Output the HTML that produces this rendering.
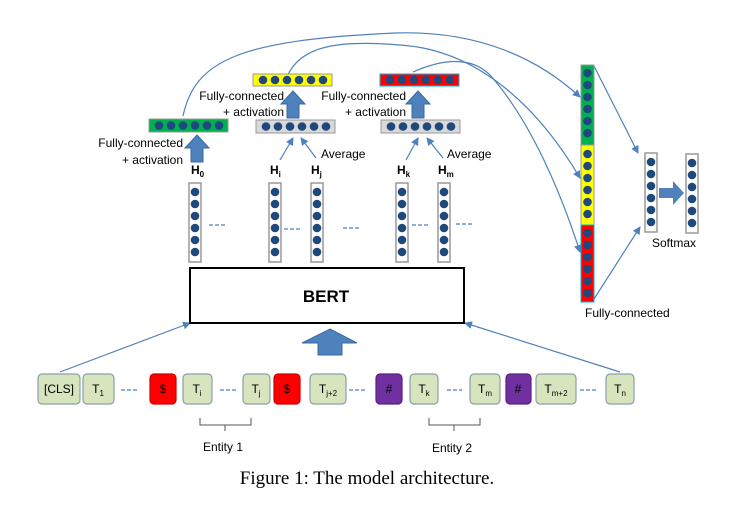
<!DOCTYPE html>
<html><head><style>body{margin:0;background:#fff}</style></head><body>
<svg width="746" height="511" xmlns="http://www.w3.org/2000/svg" font-family="Liberation Sans, sans-serif">
<defs>
<marker id="ah" markerWidth="8" markerHeight="8" refX="7" refY="4" orient="auto" markerUnits="userSpaceOnUse"><path d="M0,0 L8,4 L0,8 Z" fill="#4f81bd"/></marker>
<g id="vcol"><rect x="0" y="0" width="12" height="79" fill="#fff" stroke="#999" stroke-width="1.5"/>
<circle cx="6" cy="9" r="4.3" fill="#1f497d"/><circle cx="6" cy="21" r="4.3" fill="#1f497d"/><circle cx="6" cy="33" r="4.3" fill="#1f497d"/><circle cx="6" cy="45" r="4.3" fill="#1f497d"/><circle cx="6" cy="57" r="4.3" fill="#1f497d"/><circle cx="6" cy="69" r="4.3" fill="#1f497d"/></g>
<g id="dots6h"><circle cx="9" cy="6" r="4.3" fill="#1f497d"/><circle cx="21" cy="6" r="4.3" fill="#1f497d"/><circle cx="33" cy="6" r="4.3" fill="#1f497d"/><circle cx="45" cy="6" r="4.3" fill="#1f497d"/><circle cx="57" cy="6" r="4.3" fill="#1f497d"/><circle cx="69" cy="6" r="4.3" fill="#1f497d"/></g>
<g id="dots6v"><circle cx="6" cy="7" r="4.3" fill="#1f497d"/><circle cx="6" cy="19" r="4.3" fill="#1f497d"/><circle cx="6" cy="31" r="4.3" fill="#1f497d"/><circle cx="6" cy="43" r="4.3" fill="#1f497d"/><circle cx="6" cy="55" r="4.3" fill="#1f497d"/><circle cx="6" cy="67" r="4.3" fill="#1f497d"/></g>
<path id="uparr" d="M0,0 L12,13 L6,13 L6,27 L-6,27 L-6,13 L-12,13 Z" fill="#4f81bd" stroke="#3a6aa0" stroke-width="1"/>
</defs>

<g fill="none" stroke="#4f81bd" stroke-width="1.2">
<path d="M183,116 C195,60 240,40 395,33 C480,30 540,60 580,97" marker-end="url(#ah)"/>
<path d="M287,77 C300,45 340,40 400,45 C480,50 540,110 580,178" marker-end="url(#ah)"/>
<path d="M413,72 C440,60 470,55 490,75 C530,120 560,190 580,252" marker-end="url(#ah)"/>
<path d="M594,66 L638,153" marker-end="url(#ah)"/>
<path d="M594,299 L640,227" marker-end="url(#ah)"/>
<path d="M280,160 L293,138" marker-end="url(#ah)"/>
<path d="M316,158 L301,138" marker-end="url(#ah)"/>
<path d="M406,160 L418,138" marker-end="url(#ah)"/>
<path d="M443,158 L427,138" marker-end="url(#ah)"/>
<path d="M60,372 L190,323" marker-end="url(#ah)"/>
<path d="M620,372 L465,323" marker-end="url(#ah)"/>
</g>

<rect x="149" y="119" width="79" height="13" fill="#00b050" stroke="#999"/><use href="#dots6h" x="150" y="119.5"/>
<rect x="253" y="74" width="79" height="12" fill="#ffff00" stroke="#999"/><use href="#dots6h" x="254" y="74"/>
<rect x="380" y="74" width="79" height="12" fill="#ff0000" stroke="#00b0f0"/><use href="#dots6h" x="381" y="74"/>
<rect x="256" y="120" width="79" height="13" fill="#d9d9d9" stroke="#999"/><use href="#dots6h" x="257" y="120.5"/>
<rect x="381" y="120" width="79" height="13" fill="#d9d9d9" stroke="#999"/><use href="#dots6h" x="382" y="120.5"/>

<use href="#uparr" x="197" y="135"/>
<use href="#uparr" x="293" y="91"/>
<use href="#uparr" x="418" y="91"/>

<g font-size="12" fill="#000">
<text x="183" y="147" text-anchor="end">Fully-connected</text>
<text x="183" y="164" text-anchor="end">+ activation</text>
<text x="284" y="100" text-anchor="end">Fully-connected</text>
<text x="284" y="116" text-anchor="end">+ activation</text>
<text x="406" y="100" text-anchor="end">Fully-connected</text>
<text x="406" y="116" text-anchor="end">+ activation</text>
<text x="321" y="158">Average</text>
<text x="447" y="158">Average</text>
</g>
<g font-size="12" font-weight="bold">
<text x="191" y="174">H<tspan font-size="8" dy="3">0</tspan></text>
<text x="270" y="174">H<tspan font-size="8" dy="3">i</tspan></text>
<text x="311" y="174">H<tspan font-size="8" dy="3">j</tspan></text>
<text x="397" y="174">H<tspan font-size="8" dy="3">k</tspan></text>
<text x="438" y="174">H<tspan font-size="8" dy="3">m</tspan></text>
</g>

<use href="#vcol" x="189" y="183"/><use href="#vcol" x="269" y="183"/><use href="#vcol" x="311" y="183"/><use href="#vcol" x="396" y="183"/><use href="#vcol" x="438" y="183"/>
<g stroke="#4f81bd" stroke-width="1.2" stroke-dasharray="4,2">
<line x1="209" y1="225" x2="226" y2="225"/><line x1="284" y1="229" x2="301" y2="229"/><line x1="343" y1="228" x2="360" y2="228"/><line x1="412" y1="225" x2="430" y2="225"/><line x1="456" y1="224" x2="473" y2="224"/>
</g>

<rect x="190" y="268" width="274" height="55" fill="#fff" stroke="#000" stroke-width="2"/>
<text x="326" y="302" font-size="17" font-weight="bold" text-anchor="middle">BERT</text>
<path d="M330,329 L357,343 L342,343 L342,355 L318,355 L318,343 L302,343 Z" fill="#4f81bd" stroke="#3a6aa0"/>

<rect x="581" y="65" width="13" height="80" fill="#00b050" stroke="#999"/><use href="#dots6v" x="581.5" y="66"/>
<rect x="581" y="145" width="13" height="80" fill="#ffff00" stroke="#999"/><use href="#dots6v" x="581.5" y="147"/>
<rect x="581" y="225" width="13" height="77" fill="#ff0000" stroke="#00b0f0"/><use href="#dots6v" x="581.5" y="226"/>
<use href="#vcol" x="645" y="153"/><use href="#vcol" x="686" y="154"/>
<path d="M659,188 L673,188 L673,181 L684,193 L673,205 L673,198 L659,198 Z" fill="#4f81bd"/>
<g font-size="12"><text x="652" y="247">Softmax</text><text x="585" y="317">Fully-connected</text></g>

<g font-size="12" text-anchor="middle" stroke-width="1.2">
<rect x="38" y="374" width="42" height="30" rx="4" fill="#d7e4bd" stroke="#8aa0a8"/><text x="59" y="393">[CLS]</text>
<rect x="83" y="374" width="31" height="30" rx="4" fill="#d7e4bd" stroke="#8aa0a8"/><text x="98" y="393">T<tspan font-size="8" dy="3">1</tspan></text>
<rect x="150" y="374" width="26" height="30" rx="4" fill="#ff0000" stroke="#c00"/><text x="163" y="393">$</text>
<rect x="183" y="374" width="29" height="30" rx="4" fill="#d7e4bd" stroke="#8aa0a8"/><text x="197" y="393">T<tspan font-size="8" dy="3">i</tspan></text>
<rect x="243" y="374" width="27" height="30" rx="4" fill="#d7e4bd" stroke="#8aa0a8"/><text x="256" y="393">T<tspan font-size="8" dy="3">j</tspan></text>
<rect x="274" y="374" width="26" height="30" rx="4" fill="#ff0000" stroke="#c00"/><text x="287" y="393">$</text>
<rect x="310" y="374" width="36" height="30" rx="4" fill="#d7e4bd" stroke="#8aa0a8"/><text x="328" y="393">T<tspan font-size="8" dy="3">j+2</tspan></text>
<rect x="376" y="374" width="26" height="30" rx="4" fill="#7030a0" stroke="#5a2080"/><text x="389" y="393">#</text>
<rect x="410" y="374" width="28" height="30" rx="4" fill="#d7e4bd" stroke="#8aa0a8"/><text x="424" y="393">T<tspan font-size="8" dy="3">k</tspan></text>
<rect x="470" y="374" width="30" height="30" rx="4" fill="#d7e4bd" stroke="#8aa0a8"/><text x="485" y="393">T<tspan font-size="8" dy="3">m</tspan></text>
<rect x="506" y="374" width="25" height="30" rx="4" fill="#7030a0" stroke="#5a2080"/><text x="518" y="393">#</text>
<rect x="536" y="374" width="40" height="30" rx="4" fill="#d7e4bd" stroke="#8aa0a8"/><text x="556" y="393">T<tspan font-size="8" dy="3">m+2</tspan></text>
<rect x="606" y="374" width="28" height="30" rx="4" fill="#d7e4bd" stroke="#8aa0a8"/><text x="620" y="393">T<tspan font-size="8" dy="3">n</tspan></text>
</g>
<g stroke="#4f81bd" stroke-width="1.2" stroke-dasharray="4,2">
<line x1="121" y1="390" x2="139" y2="390"/><line x1="220" y1="390" x2="237" y2="390"/><line x1="349" y1="390" x2="365" y2="390"/><line x1="447" y1="390" x2="462" y2="390"/><line x1="580" y1="390" x2="598" y2="390"/>
</g>
<g fill="none" stroke="#555" stroke-width="1">
<path d="M200,418 L200,425 L251,425 L251,418 M225,425 L225,431"/>
<path d="M429,418 L429,425 L480,425 L480,418 M454,425 L454,431"/>
</g>
<g font-size="12" text-anchor="middle"><text x="223" y="451">Entity 1</text><text x="452" y="452">Entity 2</text></g>

<text x="367" y="484" font-family="Liberation Serif, serif" font-size="19" text-anchor="middle">Figure 1: The model architecture.</text>
</svg>
</body></html>
